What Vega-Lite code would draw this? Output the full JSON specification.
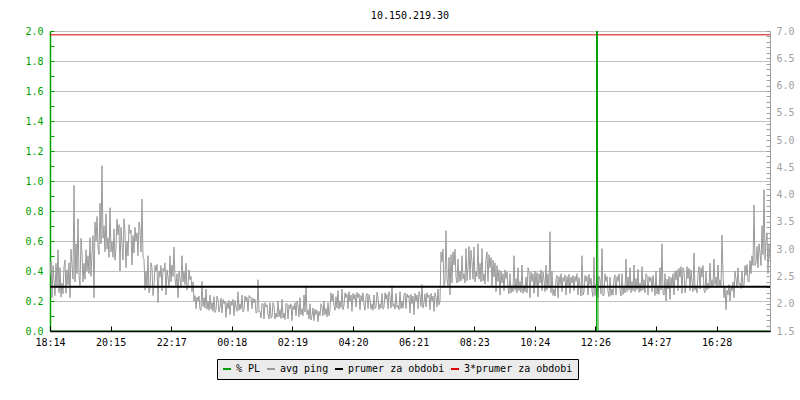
{
 "$schema": "https://vega.github.io/schema/vega-lite/v6.json",
 "width": 720,
 "height": 300,
 "autosize": "none",
 "padding": {"left": 50, "top": 31, "right": 30, "bottom": 69},
 "background": "white",
 "title": {"text": "10.150.219.30", "font": "DejaVu Sans Mono", "fontSize": 10, "fontWeight": "normal", "color": "#000000", "offset": -5, "baseline": "bottom"},
 "config": {
  "view": {"stroke": null},
  "axis": {"labelFont": "DejaVu Sans Mono", "labelFontSize": 10, "title": null, "labelFlush": false, "labelOverlap": false, "labelBound": false}
 },
 "datasets": {
  "ping": [
{"t":0,"p":2.52},{"t":2,"p":2.78},{"t":4,"p":2.11},{"t":6,"p":2.70},{"t":8,"p":2.44},{"t":10,"p":2.15},{"t":12,"p":2.74},{"t":14,"p":2.30},{"t":16,"p":2.99},{"t":18,"p":2.20},
{"t":20,"p":2.66},{"t":22,"p":2.12},{"t":24,"p":2.38},{"t":26,"p":2.18},{"t":28,"p":2.68},{"t":30,"p":2.80},{"t":32,"p":2.19},{"t":34,"p":2.62},{"t":36,"p":2.35},{"t":38,"p":2.75},
{"t":40,"p":2.11},{"t":42,"p":3.00},{"t":44,"p":2.71},{"t":46,"p":2.45},{"t":48,"p":4.17},{"t":50,"p":2.40},{"t":52,"p":3.10},{"t":54,"p":2.55},{"t":56,"p":3.56},{"t":58,"p":2.50},
{"t":60,"p":2.33},{"t":62,"p":3.20},{"t":64,"p":2.93},{"t":66,"p":2.40},{"t":68,"p":2.74},{"t":70,"p":2.45},{"t":72,"p":2.99},{"t":74,"p":2.60},{"t":76,"p":2.88},{"t":78,"p":2.55},
{"t":80,"p":3.21},{"t":82,"p":2.50},{"t":84,"p":2.93},{"t":86,"p":3.25},{"t":88,"p":2.11},{"t":90,"p":3.50},{"t":92,"p":3.15},{"t":94,"p":3.60},{"t":96,"p":3.04},{"t":98,"p":2.90},
{"t":100,"p":3.84},{"t":102,"p":3.10},{"t":104,"p":4.53},{"t":106,"p":3.20},{"t":108,"p":3.43},{"t":110,"p":2.95},{"t":112,"p":3.65},{"t":114,"p":3.00},{"t":116,"p":3.21},{"t":118,"p":2.85},
{"t":120,"p":3.76},{"t":122,"p":2.95},{"t":124,"p":3.15},{"t":126,"p":2.85},{"t":128,"p":3.37},{"t":130,"p":2.80},{"t":132,"p":3.04},{"t":134,"p":3.55},{"t":136,"p":3.26},{"t":138,"p":3.45},
{"t":140,"p":2.60},{"t":142,"p":3.40},{"t":144,"p":3.10},{"t":146,"p":2.80},{"t":148,"p":3.56},{"t":150,"p":3.30},{"t":152,"p":2.66},{"t":154,"p":3.15},{"t":156,"p":2.88},{"t":158,"p":3.45},
{"t":160,"p":3.29},{"t":162,"p":3.35},{"t":164,"p":2.71},{"t":166,"p":3.25},{"t":168,"p":2.93},{"t":170,"p":3.40},{"t":172,"p":3.15},{"t":174,"p":3.30},{"t":176,"p":2.88},{"t":178,"p":3.50},
{"t":180,"p":3.37},{"t":182,"p":2.95},{"t":184,"p":3.92},{"t":186,"p":2.85},{"t":188,"p":2.82},{"t":190,"p":2.25},{"t":192,"p":2.60},{"t":194,"p":2.30},{"t":196,"p":2.88},{"t":198,"p":2.20},
{"t":200,"p":2.27},{"t":202,"p":2.75},{"t":204,"p":2.66},{"t":206,"p":2.15},{"t":208,"p":2.33},{"t":210,"p":2.70},{"t":212,"p":2.60},{"t":214,"p":2.72},{"t":216,"p":2.02},{"t":218,"p":2.60},
{"t":220,"p":2.49},{"t":222,"p":2.70},{"t":224,"p":2.24},{"t":226,"p":2.65},{"t":228,"p":2.60},{"t":230,"p":2.75},{"t":232,"p":2.16},{"t":234,"p":2.62},{"t":236,"p":2.49},{"t":238,"p":2.30},
{"t":240,"p":2.88},{"t":242,"p":2.40},{"t":244,"p":2.71},{"t":246,"p":2.50},{"t":248,"p":3.04},{"t":250,"p":2.45},{"t":252,"p":2.33},{"t":254,"p":2.55},{"t":256,"p":2.11},{"t":258,"p":2.60},
{"t":260,"p":2.46},{"t":262,"p":2.30},{"t":264,"p":2.88},{"t":266,"p":2.40},{"t":268,"p":2.60},{"t":270,"p":2.35},{"t":272,"p":2.74},{"t":274,"p":2.25},{"t":276,"p":2.33},{"t":278,"p":2.62},
{"t":280,"p":2.44},{"t":282,"p":2.50},{"t":284,"p":2.22},{"t":286,"p":2.40},{"t":288,"p":2.05},{"t":290,"p":2.15},{"t":292,"p":1.91},{"t":294,"p":2.12},{"t":296,"p":2.05},{"t":298,"p":2.14},
{"t":300,"p":1.89},{"t":302,"p":1.88},{"t":304,"p":2.41},{"t":306,"p":1.95},{"t":308,"p":2.11},{"t":310,"p":1.92},{"t":312,"p":2.27},{"t":314,"p":1.90},{"t":316,"p":2.05},{"t":318,"p":1.88},
{"t":320,"p":2.16},{"t":322,"p":1.90},{"t":324,"p":2.02},{"t":326,"p":1.86},{"t":328,"p":2.13},{"t":330,"p":1.84},{"t":332,"p":1.89},{"t":334,"p":2.14},{"t":336,"p":2.08},{"t":338,"p":1.85},
{"t":340,"p":1.94},{"t":342,"p":2.10},{"t":344,"p":1.83},{"t":346,"p":2.08},{"t":348,"p":2.00},{"t":350,"p":2.05},{"t":352,"p":1.75},{"t":354,"p":2.02},{"t":356,"p":1.91},{"t":358,"p":2.06},
{"t":360,"p":1.80},{"t":362,"p":2.04},{"t":364,"p":1.97},{"t":366,"p":2.08},{"t":368,"p":1.78},{"t":370,"p":2.06},{"t":372,"p":1.94},{"t":374,"p":1.86},{"t":376,"p":2.22},{"t":378,"p":1.88},
{"t":380,"p":2.00},{"t":382,"p":1.90},{"t":384,"p":2.16},{"t":386,"p":1.85},{"t":388,"p":1.89},{"t":390,"p":2.14},{"t":392,"p":2.05},{"t":394,"p":2.12},{"t":396,"p":1.86},{"t":398,"p":2.15},
{"t":400,"p":2.11},{"t":402,"p":2.12},{"t":404,"p":1.91},{"t":406,"p":2.10},{"t":408,"p":2.02},{"t":410,"p":2.08},{"t":412,"p":1.83},{"t":414,"p":1.84},{"t":416,"p":2.44},{"t":418,"p":1.85},
{"t":420,"p":1.86},{"t":422,"p":1.74},{"t":424,"p":2.00},{"t":426,"p":2.00},{"t":428,"p":1.72},{"t":430,"p":2.02},{"t":432,"p":1.94},{"t":434,"p":1.98},{"t":436,"p":1.80},{"t":438,"p":1.72},
{"t":440,"p":2.02},{"t":442,"p":1.74},{"t":444,"p":1.75},{"t":446,"p":2.02},{"t":448,"p":1.97},{"t":450,"p":1.72},{"t":452,"p":1.83},{"t":454,"p":1.75},{"t":456,"p":2.05},{"t":458,"p":1.76},
{"t":460,"p":1.89},{"t":462,"p":1.73},{"t":464,"p":2.08},{"t":466,"p":1.74},{"t":468,"p":1.83},{"t":470,"p":1.71},{"t":472,"p":2.00},{"t":474,"p":2.00},{"t":476,"p":1.72},{"t":478,"p":1.98},
{"t":480,"p":1.91},{"t":482,"p":2.00},{"t":484,"p":1.69},{"t":486,"p":1.96},{"t":488,"p":1.89},{"t":490,"p":2.02},{"t":492,"p":1.78},{"t":494,"p":2.05},{"t":496,"p":1.97},{"t":498,"p":1.76},
{"t":500,"p":2.11},{"t":502,"p":1.80},{"t":504,"p":1.91},{"t":506,"p":1.78},{"t":508,"p":2.16},{"t":510,"p":1.85},{"t":512,"p":2.33},{"t":514,"p":1.80},{"t":516,"p":1.89},{"t":518,"p":1.72},
{"t":520,"p":2.00},{"t":522,"p":1.70},{"t":524,"p":1.78},{"t":526,"p":1.92},{"t":528,"p":1.69},{"t":530,"p":1.90},{"t":532,"p":1.80},{"t":534,"p":1.88},{"t":536,"p":1.67},{"t":538,"p":1.86},
{"t":540,"p":1.78},{"t":542,"p":2.00},{"t":544,"p":1.94},{"t":546,"p":1.78},{"t":548,"p":2.05},{"t":550,"p":1.80},{"t":552,"p":1.91},{"t":554,"p":1.76},{"t":556,"p":2.02},{"t":558,"p":1.78},
{"t":560,"p":1.89},{"t":562,"p":2.20},{"t":564,"p":2.05},{"t":566,"p":2.18},{"t":568,"p":1.97},{"t":570,"p":1.88},{"t":572,"p":2.13},{"t":574,"p":1.92},{"t":576,"p":2.24},{"t":578,"p":1.90},
{"t":580,"p":2.05},{"t":582,"p":1.93},{"t":584,"p":2.27},{"t":586,"p":1.89},{"t":588,"p":1.97},{"t":590,"p":2.20},{"t":592,"p":2.11},{"t":594,"p":2.18},{"t":596,"p":1.91},{"t":598,"p":2.22},
{"t":600,"p":2.05},{"t":602,"p":2.16},{"t":604,"p":1.86},{"t":606,"p":2.19},{"t":608,"p":2.08},{"t":610,"p":2.17},{"t":612,"p":1.94},{"t":614,"p":2.21},{"t":616,"p":2.11},{"t":618,"p":2.18},
{"t":620,"p":1.89},{"t":622,"p":2.15},{"t":624,"p":2.05},{"t":626,"p":2.20},{"t":628,"p":1.97},{"t":630,"p":1.88},{"t":632,"p":2.13},{"t":634,"p":2.19},{"t":636,"p":1.91},{"t":638,"p":2.17},
{"t":640,"p":2.08},{"t":642,"p":1.90},{"t":644,"p":2.00},{"t":646,"p":1.88},{"t":648,"p":2.16},{"t":650,"p":1.91},{"t":652,"p":1.94},{"t":654,"p":2.21},{"t":656,"p":2.11},{"t":658,"p":1.89},
{"t":660,"p":2.00},{"t":662,"p":1.92},{"t":664,"p":2.19},{"t":666,"p":1.90},{"t":668,"p":1.94},{"t":670,"p":2.20},{"t":672,"p":2.08},{"t":674,"p":2.17},{"t":676,"p":1.91},{"t":678,"p":2.22},
{"t":680,"p":2.13},{"t":682,"p":1.92},{"t":684,"p":2.33},{"t":686,"p":1.95},{"t":688,"p":2.00},{"t":690,"p":1.90},{"t":692,"p":2.19},{"t":694,"p":1.93},{"t":696,"p":1.97},{"t":698,"p":1.89},
{"t":700,"p":2.22},{"t":702,"p":1.91},{"t":704,"p":2.05},{"t":706,"p":1.92},{"t":708,"p":2.16},{"t":710,"p":2.20},{"t":712,"p":1.91},{"t":714,"p":2.18},{"t":716,"p":2.11},{"t":718,"p":2.15},
{"t":720,"p":1.83},{"t":722,"p":2.17},{"t":724,"p":2.00},{"t":726,"p":2.14},{"t":728,"p":1.80},{"t":730,"p":2.19},{"t":732,"p":2.05},{"t":734,"p":2.16},{"t":736,"p":1.91},{"t":738,"p":2.22},
{"t":740,"p":2.16},{"t":742,"p":1.95},{"t":744,"p":2.35},{"t":746,"p":1.92},{"t":748,"p":2.02},{"t":750,"p":2.18},{"t":752,"p":1.94},{"t":754,"p":2.20},{"t":756,"p":2.11},{"t":758,"p":2.16},
{"t":760,"p":1.89},{"t":762,"p":2.19},{"t":764,"p":2.05},{"t":766,"p":2.14},{"t":768,"p":1.86},{"t":770,"p":2.20},{"t":772,"p":2.11},{"t":774,"p":1.94},{"t":776,"p":2.27},{"t":778,"p":1.98},
{"t":780,"p":2.05},{"t":782,"p":2.95},{"t":784,"p":2.77},{"t":786,"p":3.00},{"t":788,"p":2.33},{"t":790,"p":2.40},{"t":792,"p":3.34},{"t":794,"p":2.45},{"t":796,"p":2.33},{"t":798,"p":2.85},
{"t":800,"p":2.16},{"t":802,"p":2.90},{"t":804,"p":2.38},{"t":806,"p":2.95},{"t":808,"p":2.71},{"t":810,"p":3.00},{"t":812,"p":2.49},{"t":814,"p":2.38},{"t":816,"p":2.82},{"t":818,"p":2.40},
{"t":820,"p":2.60},{"t":822,"p":2.42},{"t":824,"p":2.88},{"t":826,"p":2.45},{"t":828,"p":2.55},{"t":830,"p":2.38},{"t":832,"p":3.01},{"t":834,"p":2.42},{"t":836,"p":2.66},{"t":838,"p":3.05},
{"t":840,"p":2.44},{"t":842,"p":2.98},{"t":844,"p":2.77},{"t":846,"p":2.45},{"t":848,"p":3.04},{"t":850,"p":2.40},{"t":852,"p":2.60},{"t":854,"p":2.50},{"t":856,"p":3.10},{"t":858,"p":2.45},
{"t":860,"p":2.74},{"t":862,"p":2.40},{"t":864,"p":3.01},{"t":866,"p":2.42},{"t":868,"p":2.55},{"t":870,"p":2.36},{"t":872,"p":2.82},{"t":874,"p":2.95},{"t":876,"p":2.41},{"t":878,"p":2.90},
{"t":880,"p":2.66},{"t":882,"p":2.85},{"t":884,"p":2.33},{"t":886,"p":2.80},{"t":888,"p":2.49},{"t":890,"p":2.75},{"t":892,"p":2.22},{"t":894,"p":2.70},{"t":896,"p":2.41},{"t":898,"p":2.62},
{"t":900,"p":2.16},{"t":902,"p":2.60},{"t":904,"p":2.38},{"t":906,"p":2.55},{"t":908,"p":2.24},{"t":910,"p":2.62},{"t":912,"p":2.46},{"t":914,"p":2.58},{"t":916,"p":2.30},{"t":918,"p":2.18},
{"t":920,"p":2.55},{"t":922,"p":2.20},{"t":924,"p":2.33},{"t":926,"p":2.22},{"t":928,"p":2.88},{"t":930,"p":2.25},{"t":932,"p":2.46},{"t":934,"p":2.20},{"t":936,"p":2.66},{"t":938,"p":2.24},
{"t":940,"p":2.41},{"t":942,"p":2.21},{"t":944,"p":2.71},{"t":946,"p":2.19},{"t":948,"p":2.33},{"t":950,"p":2.22},{"t":952,"p":2.49},{"t":954,"p":2.20},{"t":956,"p":2.66},{"t":958,"p":2.60},
{"t":960,"p":2.11},{"t":962,"p":2.58},{"t":964,"p":2.41},{"t":966,"p":2.55},{"t":968,"p":2.19},{"t":970,"p":2.60},{"t":972,"p":2.33},{"t":974,"p":2.57},{"t":976,"p":2.13},{"t":978,"p":2.55},
{"t":980,"p":2.38},{"t":982,"p":2.62},{"t":984,"p":2.24},{"t":986,"p":2.58},{"t":988,"p":2.44},{"t":990,"p":2.22},{"t":992,"p":2.71},{"t":994,"p":2.25},{"t":996,"p":2.55},{"t":998,"p":2.30},
{"t":1000,"p":3.32},{"t":1002,"p":2.20},{"t":1004,"p":2.60},{"t":1006,"p":2.15},{"t":1008,"p":2.27},{"t":1010,"p":2.14},{"t":1012,"p":2.44},{"t":1014,"p":2.52},{"t":1016,"p":2.11},{"t":1018,"p":2.50},
{"t":1020,"p":2.35},{"t":1022,"p":2.55},{"t":1024,"p":2.22},{"t":1026,"p":2.48},{"t":1028,"p":2.41},{"t":1030,"p":2.53},{"t":1032,"p":2.16},{"t":1034,"p":2.50},{"t":1036,"p":2.33},{"t":1038,"p":2.54},
{"t":1040,"p":2.19},{"t":1042,"p":2.49},{"t":1044,"p":2.38},{"t":1046,"p":2.52},{"t":1048,"p":2.24},{"t":1050,"p":2.50},{"t":1052,"p":2.41},{"t":1054,"p":2.55},{"t":1056,"p":2.16},{"t":1058,"p":2.48},
{"t":1060,"p":2.33},{"t":1062,"p":2.14},{"t":1064,"p":2.88},{"t":1066,"p":2.16},{"t":1068,"p":2.22},{"t":1070,"p":2.52},{"t":1072,"p":2.41},{"t":1074,"p":2.50},{"t":1076,"p":2.16},{"t":1078,"p":2.54},
{"t":1080,"p":2.35},{"t":1082,"p":2.47},{"t":1084,"p":2.24},{"t":1086,"p":2.13},{"t":1088,"p":2.85},{"t":1090,"p":2.15},{"t":1092,"p":2.33},{"t":1094,"p":2.52},{"t":1096,"p":2.11},{"t":1098,"p":2.50},
{"t":1100,"p":2.44},{"t":1102,"p":2.18},{"t":1104,"p":3.01},{"t":1106,"p":2.14},{"t":1108,"p":2.16},{"t":1110,"p":2.55},{"t":1112,"p":2.41},{"t":1114,"p":2.50},{"t":1116,"p":2.22},{"t":1118,"p":2.13},
{"t":1120,"p":2.49},{"t":1122,"p":2.15},{"t":1124,"p":2.27},{"t":1126,"p":2.16},{"t":1128,"p":2.46},{"t":1130,"p":2.53},{"t":1132,"p":2.16},{"t":1134,"p":2.50},{"t":1136,"p":2.41},{"t":1138,"p":2.55},
{"t":1140,"p":2.24},{"t":1142,"p":2.14},{"t":1144,"p":2.55},{"t":1146,"p":2.17},{"t":1148,"p":2.33},{"t":1150,"p":2.20},{"t":1152,"p":2.82},{"t":1154,"p":2.22},{"t":1156,"p":2.49},{"t":1158,"p":2.25},
{"t":1160,"p":2.66},{"t":1162,"p":2.20},{"t":1164,"p":2.41},{"t":1166,"p":2.24},{"t":1168,"p":2.71},{"t":1170,"p":2.22},{"t":1172,"p":2.46},{"t":1174,"p":2.26},{"t":1176,"p":2.63},{"t":1178,"p":2.21},
{"t":1180,"p":2.38},{"t":1182,"p":2.23},{"t":1184,"p":2.68},{"t":1186,"p":2.25},{"t":1188,"p":2.44},{"t":1190,"p":2.20},{"t":1192,"p":2.55},{"t":1194,"p":2.52},{"t":1196,"p":2.16},{"t":1198,"p":2.50},
{"t":1200,"p":2.41},{"t":1202,"p":2.48},{"t":1204,"p":2.22},{"t":1206,"p":2.52},{"t":1208,"p":2.33},{"t":1210,"p":2.15},{"t":1212,"p":2.60},{"t":1214,"p":2.18},{"t":1216,"p":2.33},{"t":1218,"p":2.17},
{"t":1220,"p":2.66},{"t":1222,"p":2.25},{"t":1224,"p":3.10},{"t":1226,"p":2.20},{"t":1228,"p":2.16},{"t":1230,"p":2.55},{"t":1232,"p":2.05},{"t":1234,"p":2.45},{"t":1236,"p":2.27},{"t":1238,"p":2.50},
{"t":1240,"p":2.08},{"t":1242,"p":2.48},{"t":1244,"p":2.33},{"t":1246,"p":2.55},{"t":1248,"p":2.16},{"t":1250,"p":2.60},{"t":1252,"p":2.44},{"t":1254,"p":2.62},{"t":1256,"p":2.24},{"t":1258,"p":2.65},
{"t":1260,"p":2.49},{"t":1262,"p":2.68},{"t":1264,"p":2.19},{"t":1266,"p":2.66},{"t":1268,"p":2.60},{"t":1270,"p":2.20},{"t":1272,"p":2.33},{"t":1274,"p":2.68},{"t":1276,"p":2.46},{"t":1278,"p":2.65},
{"t":1280,"p":2.24},{"t":1282,"p":2.62},{"t":1284,"p":2.41},{"t":1286,"p":2.22},{"t":1288,"p":2.93},{"t":1290,"p":2.25},{"t":1292,"p":2.33},{"t":1294,"p":2.20},{"t":1296,"p":2.55},{"t":1298,"p":2.68},
{"t":1300,"p":2.27},{"t":1302,"p":2.66},{"t":1304,"p":2.49},{"t":1306,"p":2.70},{"t":1308,"p":2.24},{"t":1310,"p":2.20},{"t":1312,"p":2.60},{"t":1314,"p":2.25},{"t":1316,"p":2.38},{"t":1318,"p":2.28},
{"t":1320,"p":2.74},{"t":1322,"p":2.30},{"t":1324,"p":2.44},{"t":1326,"p":2.32},{"t":1328,"p":2.82},{"t":1330,"p":2.35},{"t":1332,"p":2.49},{"t":1334,"p":2.30},{"t":1336,"p":2.71},{"t":1338,"p":2.33},
{"t":1340,"p":2.44},{"t":1342,"p":2.30},{"t":1344,"p":3.26},{"t":1346,"p":2.55},{"t":1348,"p":2.11},{"t":1350,"p":2.30},{"t":1352,"p":1.89},{"t":1354,"p":2.25},{"t":1356,"p":2.16},{"t":1358,"p":2.35},
{"t":1360,"p":2.05},{"t":1362,"p":2.30},{"t":1364,"p":2.24},{"t":1366,"p":2.40},{"t":1368,"p":2.11},{"t":1370,"p":2.60},{"t":1372,"p":2.46},{"t":1374,"p":2.30},{"t":1376,"p":2.66},{"t":1378,"p":2.35},
{"t":1380,"p":2.38},{"t":1382,"p":2.28},{"t":1384,"p":2.60},{"t":1386,"p":2.30},{"t":1388,"p":2.33},{"t":1390,"p":2.70},{"t":1392,"p":2.52},{"t":1394,"p":2.72},{"t":1396,"p":2.41},{"t":1398,"p":2.40},
{"t":1400,"p":2.79},{"t":1402,"p":2.55},{"t":1404,"p":2.88},{"t":1406,"p":2.70},{"t":1408,"p":3.81},{"t":1410,"p":2.70},{"t":1412,"p":2.74},{"t":1414,"p":3.05},{"t":1416,"p":2.66},{"t":1418,"p":3.10},
{"t":1420,"p":2.93},{"t":1422,"p":2.70},{"t":1424,"p":3.43},{"t":1426,"p":2.90},{"t":1428,"p":4.09},{"t":1430,"p":2.80},{"t":1432,"p":3.15},{"t":1434,"p":3.30},{"t":1436,"p":2.55},{"t":1438,"p":3.10},
{"t":1440,"p":2.82}
  ],
  "pl": [
   {"t": 0, "pl": 0}, {"t": 1093, "pl": 0}, {"t": 1094, "pl": 30}, {"t": 1095, "pl": 1}, {"t": 1096, "pl": 0}, {"t": 1440, "pl": 0}
  ]
 },
 "layer": [
  {
   "data": {"name": "ping"},
   "mark": {"type": "line", "strokeWidth": 1, "clip": true},
   "encoding": {
    "x": {
     "field": "t", "type": "quantitative",
     "scale": {"domain": [0, 1440], "nice": false, "zero": false},
     "axis": {
      "values": [0, 121.2, 242.4, 363.6, 484.8, 606, 727.2, 848.4, 969.6, 1090.8, 1212, 1333.2],
      "labelExpr": "['18:14','20:15','22:17','00:18','02:19','04:20','06:21','08:23','10:24','12:26','14:27','16:28'][round(datum.value/121.2)]",
      "domainColor": "#000000", "domainWidth": 1.5, "tickColor": "#000000", "tickSize": -5, "labelPadding": 11,
      "labelColor": "#000000", "grid": false, "zindex": 1
     }
    },
    "y": {
     "field": "p", "type": "quantitative",
     "scale": {"domain": [1.5, 7], "nice": false, "zero": false},
     "axis": {
      "orient": "right",
      "values": [1.5,1.6,1.7,1.8,1.9,2.0,2.1,2.2,2.3,2.4,2.5,2.6,2.7,2.8,2.9,3.0,3.1,3.2,3.3,3.4,3.5,3.6,3.7,3.8,3.9,4.0,4.1,4.2,4.3,4.4,4.5,4.6,4.7,4.8,4.9,5.0,5.1,5.2,5.3,5.4,5.5,5.6,5.7,5.8,5.9,6.0,6.1,6.2,6.3,6.4,6.5,6.6,6.7,6.8,6.9,7.0],
      "labelExpr": "round(datum.value*10)%5==0 ? format(datum.value,'.1f') : ''",
      "domainColor": "#a0a0a0", "tickColor": "#a0a0a0", "labelColor": "#a0a0a0",
      "tickSize": -4, "labelPadding": 10, "grid": false
     }
    },
    "color": {
     "datum": "avg ping", "type": "nominal",
     "scale": {"domain": ["% PL", "avg ping", "prumer za obdobi", "3*prumer za obdobi"], "range": ["#00a000", "#9a9a9a", "#000000", "#e00000"]},
     "legend": {
      "orient": "none", "legendX": 167, "legendY": 328, "direction": "horizontal", "title": null,
      "fillColor": "#ebebeb", "strokeColor": "#000000", "padding": 5,
      "symbolType": "stroke", "symbolSize": 64, "symbolStrokeWidth": 2,
      "labelFont": "DejaVu Sans Mono", "labelFontSize": 10, "labelColor": "#000000",
      "labelOffset": 4, "columnPadding": 2, "labelLimit": 300
     }
    }
   }
  },
  {
   "data": {"values": [{"v": 2.31}]},
   "mark": {"type": "rule", "strokeWidth": 2},
   "encoding": {
    "y": {"field": "v", "type": "quantitative", "scale": {"domain": [1.5, 7], "nice": false, "zero": false}, "axis": null},
    "color": {"datum": "prumer za obdobi", "type": "nominal"}
   }
  },
  {
   "data": {"values": [{"v": 6.93}]},
   "mark": {"type": "rule", "strokeWidth": 1},
   "encoding": {
    "y": {"field": "v", "type": "quantitative", "scale": {"domain": [1.5, 7], "nice": false, "zero": false}, "axis": null},
    "color": {"datum": "3*prumer za obdobi", "type": "nominal"}
   }
  },
  {
   "data": {"name": "pl"},
   "mark": {"type": "line", "strokeWidth": 1, "clip": true},
   "encoding": {
    "x": {"field": "t", "type": "quantitative"},
    "y": {
     "field": "pl", "type": "quantitative",
     "scale": {"domain": [0, 2], "nice": false, "zero": false},
     "axis": {
      "orient": "left",
      "values": [0,0.1,0.2,0.3,0.4,0.5,0.6,0.7,0.8,0.9,1.0,1.1,1.2,1.3,1.4,1.5,1.6,1.7,1.8,1.9,2.0],
      "labelExpr": "round(datum.value*10)%2==0 ? format(datum.value,'.1f') : ''",
      "domainColor": "#00a000", "domainWidth": 1.5, "tickColor": "#00a000", "labelColor": "#00a000",
      "tickSize": -4, "labelPadding": 11,
      "grid": true, "gridColor": "#c0c0c0",
      "gridOpacity": {"condition": {"test": "round(datum.value*10)%2==0", "value": 1}, "value": 0}
     }
    },
    "color": {"datum": "% PL", "type": "nominal"}
   }
  }
 ],
 "resolve": {"scale": {"y": "independent"}}
}
